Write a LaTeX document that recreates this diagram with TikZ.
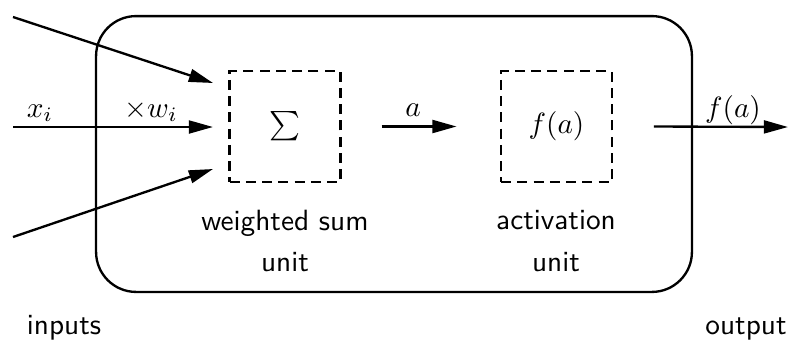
\documentclass[tikz,border=0pt]{standalone}
\usepackage{amsmath,amssymb}
\usepackage{tikz}
\usetikzlibrary{arrows.meta,positioning}

\begin{document}
\begin{tikzpicture}[
  x=0.12mm, y=-0.12mm,
  cell/.style={rectangle, rounded corners=4.8mm, draw=black, line width=0.8pt,
               minimum width=71.5mm, minimum height=33.1mm, inner sep=0pt},
  unitbox/.style={rectangle, draw=black, line width=0.8pt, dash pattern=on 1.2mm off 0.75mm,
                  minimum size=13.3mm, inner sep=0pt},
  desc/.style={font=\sffamily\fontsize{10}{14.3}\selectfont, align=center},
  lbl/.style={anchor=base, inner sep=0pt},
  arr/.style={-{Triangle[length=2.9mm, width=1.55mm]}, line width=0.8pt}
]
\useasboundingbox (0,0) rectangle (789,340);

\node[cell] (neuron) at (394,154) {};

\node[unitbox] (sum) at (285,126.5) {$\sum$};
\node[unitbox] (act) at (556.5,126.5) {$f(a)$};

\node[desc] (sumtxt) at (285,241) {weighted sum\\unit};
\node[desc] (acttxt) at (556,241) {activation\\unit};

% inputs
\coordinate (in1) at (13,17);
\coordinate (in2) at (13,127);
\coordinate (in3) at (13,237);
\coordinate (tip1) at (213,83);
\coordinate (tip2) at (213,127);
\coordinate (tip3) at (213,169);

\draw[arr] (in1) -- (tip1);
\draw[arr] (in2) -- (tip2);
\draw[arr] (in3) -- (tip3);

\node[lbl] (xi) at (40,117) {$x_i$};
\node[lbl] (wi) at (151,117) {$\times w_i$};

% sum -> activation -> output
\coordinate (out) at (788,127);
\draw[arr] ([xshift=4.8mm]sum.east) -- ([xshift=-5.2mm]act.west);
\node[lbl] (alab) at (413,116) {$a$};
\draw[arr] ([xshift=4.9mm]act.east) -- (out);
\node[lbl] (flab) at (733,117) {$f(a)$};

\node[desc, anchor=base] (inlab) at (64,334) {inputs};
\node[desc, anchor=base] (outlab) at (746,334) {output};

\end{tikzpicture}
\end{document}
